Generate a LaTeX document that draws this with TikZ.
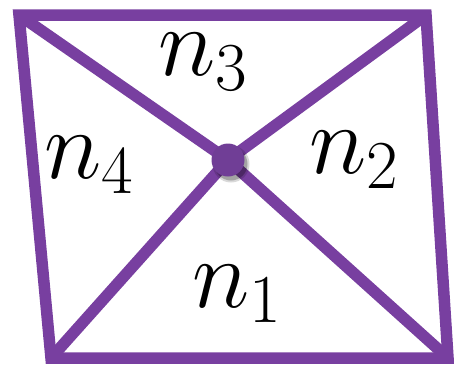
\RequirePackage{fix-cm}
\documentclass[tikz,border=0pt]{standalone}
\definecolor{edgepurple}{RGB}{120,63,160}
\definecolor{dotpurple}{RGB}{112,62,150}
\begin{document}
\begin{tikzpicture}[x=1pt,y=-1pt,
  edge/.style={draw=edgepurple,line width=11.5pt,line join=miter},
  lab/.style={font=\fontsize{98}{100}\selectfont,inner sep=0pt}]
\useasboundingbox (0,0) rectangle (454,370);
\coordinate (tl) at (19,15);
\coordinate (tr) at (426,15);
\coordinate (br) at (448,358);
\coordinate (bl) at (51,358);
\coordinate (c) at (228,160);
\draw[edge] (tl) -- (tr) -- (br) -- (bl) -- cycle;
\draw[edge] (tl) -- (c) -- (br);
\draw[edge] (tr) -- (c) -- (bl);
\fill[black,opacity=0.15] (231,164) circle (18.5);
\fill[black,opacity=0.25] (231,164) circle (16.5);
\node[circle,fill=dotpurple,minimum size=33pt,inner sep=0pt] (dot) at (c) {};
\node[lab] (n3) at (203,62) {$n_3$};
\node[lab] (n4) at (89,165) {$n_4$};
\node[lab] (n2) at (354,160) {$n_2$};
\node[lab] (n1) at (237,294) {$n_1$};
\end{tikzpicture}
\end{document}
